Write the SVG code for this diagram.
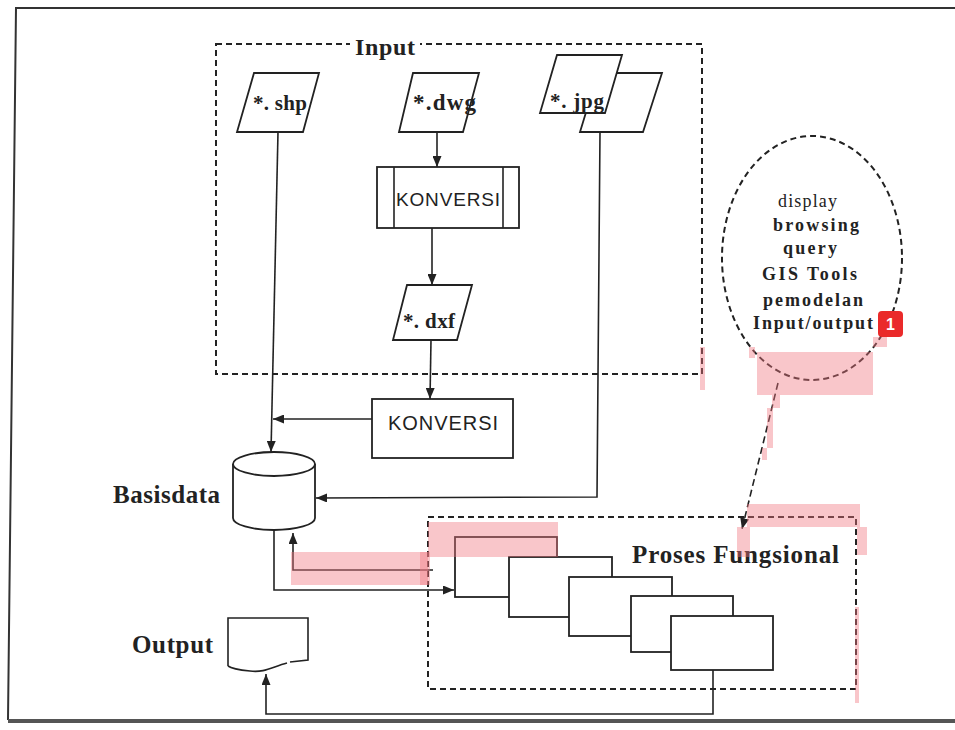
<svg xmlns="http://www.w3.org/2000/svg" width="955" height="730" viewBox="0 0 955 730">
<style>
.ln{fill:none;stroke:#222;stroke-width:1.6}
.sh{fill:#fff;stroke:#222;stroke-width:1.8}
.dash{fill:none;stroke:#222;stroke-width:2;stroke-dasharray:6 4}
.ser{font-family:"Liberation Serif","Times New Roman",serif;fill:#222;font-weight:bold}
.san{font-family:"Liberation Sans",Arial,sans-serif;fill:#222}
.hl{fill:#f07880;opacity:0.42}
</style>
<defs>
<marker id="ah" markerUnits="userSpaceOnUse" markerWidth="11" markerHeight="9" refX="11" refY="4.5" orient="auto">
<path d="M0,0 L11,4.5 L0,9 z" fill="#222"/>
</marker>
</defs>
<rect width="955" height="730" fill="#fff"/>
<g id="frame">
<path d="M8,720 L16,8 L955,8" fill="none" stroke="#333" stroke-width="2"/>
<line x1="8" y1="721" x2="955" y2="721" stroke="#555" stroke-width="4"/>
</g>
<g id="input-group">
<rect class="dash" x="216" y="44" width="486" height="330"/>
<rect x="350" y="32" width="70" height="22" fill="#fff"/>
<text class="ser" x="355" y="55" font-size="24" textLength="60">Input</text>
</g>
<g id="shp">
<polygon class="sh" points="254,73 319,73 303,132 237,132"/>
<text class="ser" x="253" y="110" font-size="21" font-weight="normal" textLength="54">*. shp</text>
</g>
<g id="dwg">
<polygon class="sh" points="413,73 479,73 463,132 399,132"/>
<text class="ser" x="413" y="110" font-size="23" font-weight="normal" textLength="63">*.dwg</text>
</g>
<g id="jpg">
<polygon class="sh" points="598,73 662,73 643,132 580,132"/>
<polygon class="sh" points="557,55 622,55 605,113 540,113"/>
<text class="ser" x="550" y="108" font-size="21" font-weight="normal" textLength="54">*. jpg</text>
</g>
<g id="konversi1">
<rect class="sh" x="377" y="167" width="142" height="61"/>
<line class="ln" x1="394" y1="167" x2="394" y2="228"/>
<line class="ln" x1="503" y1="167" x2="503" y2="228"/>
<text class="san" x="396" y="206" font-size="19" textLength="104">KONVERSI</text>
</g>
<g id="dxf">
<polygon class="sh" points="407,285 472,285 457,340 393,340"/>
<text class="ser" x="403" y="328" font-size="21" font-weight="normal" textLength="52">*. dxf</text>
</g>
<g id="konversi2">
<rect class="sh" x="372" y="399" width="141" height="59"/>
<text class="san" x="388" y="430" font-size="20" textLength="110">KONVERSI</text>
</g>
<g id="basisdata">
<path class="sh" d="M233,464 L233,518 A41,12 0 0 0 315,518 L315,464"/>
<ellipse class="sh" cx="274" cy="464" rx="41" ry="12"/>
<text class="ser" x="113" y="503" font-size="25" textLength="107">Basisdata</text>
</g>
<g id="output">
<path d="M228,619 L308,619 L308,660 L290,662 C272,667 264,673 250,671 C240,670 232,669 228,666 z" fill="#fff" stroke="none"/>
<path class="ln" d="M228,666 L228,618 L308,618 L308,660 L290,662 M287,663 C272,667 264,673 250,671 C240,670 232,669 228,666" stroke-width="1.8"/>
<text class="ser" x="132" y="653" font-size="25" font-weight="normal" textLength="81">Output</text>
</g>
<g id="tools">
<ellipse class="dash" cx="812" cy="258" rx="90" ry="122"/>
<g class="ser" font-size="18">
<text x="778" y="207" font-weight="normal" textLength="59">display</text>
<text x="773" y="231" textLength="86">browsing</text>
<text x="783" y="254" textLength="54">query</text>
<text x="762" y="280" textLength="95">GIS Tools</text>
<text x="763" y="306" textLength="100">pemodelan</text>
<text x="753" y="329" textLength="120">Input/output</text>
</g>
</g>
<g id="proses">
<rect class="dash" x="428" y="517" width="428" height="172"/>
<rect class="sh" x="455" y="537" width="102" height="60"/>
<rect class="sh" x="509" y="557" width="103" height="60"/>
<rect class="sh" x="569" y="577" width="103" height="59"/>
<rect class="sh" x="631" y="596" width="102" height="56"/>
<rect class="sh" x="671" y="616" width="102" height="54"/>
<text class="ser" x="632" y="563" font-size="25" textLength="207">Proses Fungsional</text>
</g>
<g id="connectors">
<path class="ln" d="M278,132 L271,452" marker-end="url(#ah)"/>
<path class="ln" d="M437,132 L437,167" marker-end="url(#ah)"/>
<path class="ln" d="M432,228 L432,285" marker-end="url(#ah)"/>
<path class="ln" d="M431,340 L430,399" marker-end="url(#ah)"/>
<path class="ln" d="M372,419 L273,419" marker-end="url(#ah)"/>
<path class="ln" d="M600,132 L597,497 L316,498" marker-end="url(#ah)"/>
<path class="ln" d="M274,530 L274,590 L454,590" marker-end="url(#ah)"/>
<path class="ln" d="M433,570 L293,570 L293,533" marker-end="url(#ah)"/>
<path class="ln" d="M713,670 L713,714 L266,714 L266,674" marker-end="url(#ah)"/>
<path class="ln" d="M778,383 L742,529" stroke-dasharray="7 4" stroke-width="1.8" marker-end="url(#ah)"/>
</g>
<g id="highlights">
<rect class="hl" x="700" y="347" width="5" height="43"/>
<rect class="hl" x="757" y="352" width="116" height="43"/>
<rect class="hl" x="749" y="347" width="6" height="11"/>
<rect class="hl" x="873" y="337" width="14" height="10"/>
<rect class="hl" x="772" y="395" width="8" height="13"/>
<rect class="hl" x="767" y="408" width="6" height="40"/>
<rect class="hl" x="762" y="448" width="5" height="12"/>
<rect class="hl" x="747" y="504" width="113" height="23"/>
<rect class="hl" x="737" y="527" width="13" height="30"/>
<rect class="hl" x="857" y="527" width="10" height="28"/>
<rect class="hl" x="855" y="607" width="4" height="96"/>
<rect class="hl" x="428" y="522" width="130" height="35"/>
<rect class="hl" x="420" y="552" width="10" height="33"/>
<rect class="hl" x="291" y="552" width="137" height="33"/>
</g>
<g id="badge">
<rect x="878" y="311" width="25" height="26" rx="4" fill="#ea2a2a"/>
<text class="san" x="890.5" y="330" font-size="16" font-weight="bold" text-anchor="middle" style="fill:#fff">1</text>
</g>
</svg>
